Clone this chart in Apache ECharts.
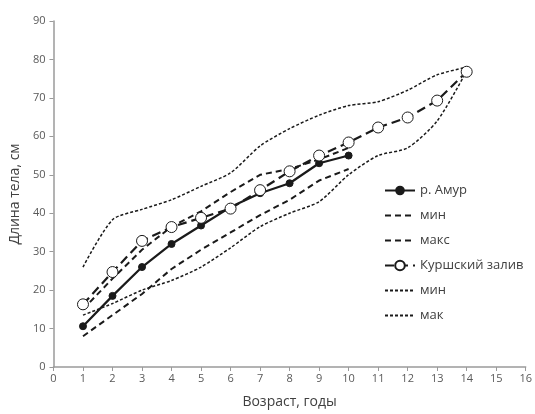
<!DOCTYPE html>
<html><head><meta charset="utf-8">
<script src="https://cdn.jsdelivr.net/npm/echarts@6/dist/echarts.min.js"></script>
<style>html,body{margin:0;padding:0;background:#fff}#c{width:535px;height:414px}</style>
</head><body><div id="c"></div>
<script>
const agesAmur = [1,2,3,4,5,6,7,8,9,10];
const amurMean = [10.6,18.5,26,32,36.8,41.6,45.2,47.8,53,55];
const amurMin  = [8,13.5,19,25.5,30.5,35,39.5,43.5,48.5,51.5];
const amurMax  = [15,23,30.5,36.5,40.5,45.5,50,51.5,54,57];
const agesKur = [1,2,3,4,5,6,7,8,9,10,11,12,13,14];
const kurMean = [16.3,24.7,32.8,36.4,38.8,41.2,46,50.9,55,58.4,62.3,64.9,69.3,76.8];
const kurMin  = [13.5,16.5,20,22.5,26,31,36.5,40,43,50,55,57,64,77];
const kurMax  = [26,38.3,41,43.5,47,50.5,57.5,62,65.5,68,69,72,76,78];
const xTicks = [0,16,1];
const yTicks = [0,90,10];

const pairs = (xs, ys) => xs.map((x,i)=>[x,ys[i]]);
const black = '#1a1a1a';
const clear = 'rgba(0,0,0,0)';
const font = 'Open Sans';
const chart = echarts.init(document.getElementById('c'));
chart.setOption({
  animation:false,
  textStyle:{fontFamily:font},
  grid:{left:52,right:7,top:21,bottom:46},
  xAxis:{type:'value',min:xTicks[0],max:xTicks[1],interval:xTicks[2],
    name:'Возраст, годы',nameLocation:'middle',nameGap:28,
    nameTextStyle:{fontSize:14,color:'#404040',fontFamily:font},
    axisLine:{lineStyle:{color:'#9a9a9a',width:1.5}},
    axisTick:{show:true,length:4,lineStyle:{color:'#9a9a9a'}},
    axisLabel:{fontSize:11,color:'#595959',margin:6},
    splitLine:{show:false}},
  yAxis:{type:'value',min:yTicks[0],max:yTicks[1],interval:yTicks[2],
    name:'Длина тела, см',nameLocation:'middle',nameGap:25,
    nameTextStyle:{fontSize:14,color:'#404040',fontFamily:font},
    axisLine:{show:true,lineStyle:{color:'#9a9a9a',width:1.5}},
    axisTick:{show:true,length:4,lineStyle:{color:'#9a9a9a'}},
    axisLabel:{fontSize:11,color:'#595959',margin:8},
    splitLine:{show:false}},
  legend:{orient:'vertical',left:384,top:184,padding:0,itemWidth:30,itemHeight:12,itemGap:12,
    textStyle:{fontSize:13,color:'#404040',fontFamily:font},
    data:['р. Амур','мин','макс','Куршский залив','мин ','мак']},
  series:[
    {name:'мин ',type:'line',data:pairs(agesKur,kurMin),symbol:'circle',showSymbol:false,symbolSize:1,smooth:0.25,
      lineStyle:{color:black,width:1.5,type:[3,2]},itemStyle:{color:clear,borderColor:clear,borderWidth:0},z:2},
    {name:'мак',type:'line',data:pairs(agesKur,kurMax),symbol:'circle',showSymbol:false,symbolSize:1,smooth:0.25,
      lineStyle:{color:black,width:1.5,type:[3,2]},itemStyle:{color:clear,borderColor:clear,borderWidth:0},z:2},
    {name:'мин',type:'line',data:pairs(agesAmur,amurMin),symbol:'circle',showSymbol:false,symbolSize:1,
      lineStyle:{color:black,width:2,type:[6,4]},itemStyle:{color:clear,borderColor:clear,borderWidth:0},z:2},
    {name:'макс',type:'line',data:pairs(agesAmur,amurMax),symbol:'circle',showSymbol:false,symbolSize:1,
      lineStyle:{color:black,width:2,type:[6,4]},itemStyle:{color:clear,borderColor:clear,borderWidth:0},z:2},
    {name:'р. Амур',type:'line',data:pairs(agesAmur,amurMean),symbol:'circle',symbolSize:7,
      lineStyle:{color:black,width:2.2},itemStyle:{color:black,borderColor:black},z:4},
    {name:'Куршский залив',type:'line',data:pairs(agesKur,kurMean),symbol:'circle',symbolSize:11,
      lineStyle:{color:black,width:2.2,type:[9,5]},
      itemStyle:{color:'#fff',borderColor:black,borderWidth:1},z:5}
  ]
});
</script></body></html>
